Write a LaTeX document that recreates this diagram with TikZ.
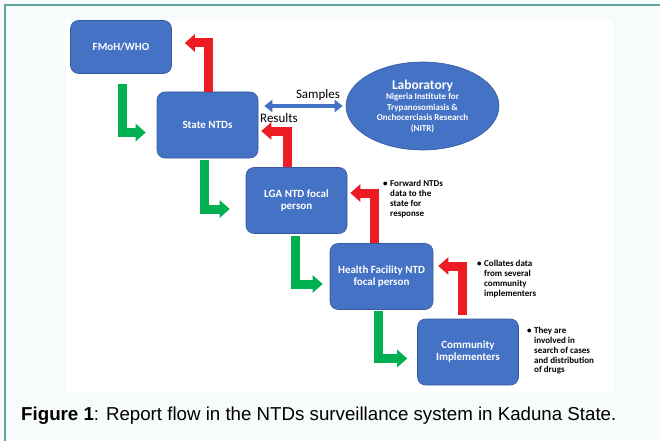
\documentclass[tikz,border=0pt]{standalone}
\usepackage{fontspec}
\setmainfont{Liberation Sans}
\newfontfamily\calib{Carlito}
\usetikzlibrary{arrows.meta,shapes.geometric}
\definecolor{boxblue}{RGB}{68,114,196}
\definecolor{flowgreen}{RGB}{0,176,80}
\definecolor{flowred}{RGB}{237,28,36}
\definecolor{frameteal}{RGB}{98,163,163}
\definecolor{framebg}{RGB}{248,251,251}
\newcommand{\bulnote}[1]{\textbullet\hspace{2.5pt}\begin{tabular}[t]{@{}l@{}}#1\end{tabular}}
\tikzset{
  stage/.style={draw=boxblue!80!black,line width=0.6pt,fill=boxblue,rounded corners=8pt,
    minimum width=101pt,minimum height=66pt,inner sep=1pt,align=center,text=white,
    font=\calib\bfseries\fontsize{11}{12}\selectfont},
  labnode/.style={ellipse,draw=boxblue!80!black,line width=0.6pt,fill=boxblue,
    minimum width=153pt,minimum height=88pt,inner sep=0pt,align=center,text=white,
    font=\calib\bfseries\fontsize{9}{10.5}\selectfont},
  gflow/.style={draw=flowgreen,line width=9pt,-{Triangle[width=17pt,length=10pt]}},
  rflow/.style={draw=flowred,line width=9pt,-{Triangle[width=17pt,length=10pt]}},
  sflow/.style={draw=boxblue,line width=4pt,{Triangle[width=12pt,length=8pt]}-{Triangle[width=12pt,length=8pt]}},
  lbl/.style={inner sep=0pt,font=\calib\fontsize{13}{14}\selectfont},
  note/.style={anchor=north west,inner sep=0pt,font=\calib\bfseries\fontsize{9}{9.7}\selectfont},
}
\begin{document}
\begin{tikzpicture}[x=1pt,y=-1pt,line join=miter]
	\useasboundingbox (0,0) rectangle (660,441);
	\fill[framebg] (0,0) rectangle (660,441);
	\fill[white] (66,20) rectangle (613,392);
	\draw[frameteal,line width=2pt] (5,441) -- (5,5) -- (660,5);

	\node[stage] (fmoh) at (121,47) [minimum height=53pt] {FMoH/WHO};
	\node[stage] (state) at (207.5,125) {State NTDs};
	\node[stage] (lga) at (296.5,200.5) {LGA NTD focal\\person};
	\node[stage] (hf) at (381.5,276.5) [minimum width=103pt] {Health Facility NTD\\focal person};
	\node[stage] (comm) at (468,352) {Community\\Implementers};
	\node[labnode] (lab) at (422.5,106) {{\fontsize{13.5}{15}\selectfont Laboratory}\\Nigeria Institute for\\Trypanosomiasis \&\\Onchocerciasis Research\\(NITR)};

	\draw[gflow] ([shift={(1,10)}]fmoh.south) |- ([shift={(-11,7.5)}]state.west);
	\draw[gflow] ([shift={(-3.5,2)}]state.south) |- ([shift={(-16,8.5)}]lga.west);
	\draw[gflow] ([shift={(-1.5,2)}]lga.south) |- ([shift={(-7,7.5)}]hf.west);
	\draw[gflow] ([shift={(-3.5,1)}]hf.south) |- ([shift={(-10,6.5)}]comm.west);

	\draw[rflow] ([xshift=1pt]state.north) |- ([shift={(13,-4)}]fmoh.east);
	\draw[rflow] ([xshift=-9.5pt]lga.north) |- ([shift={(3,6)}]state.east);
	\draw[rflow] ([xshift=-7.5pt]hf.north) |- ([shift={(3,-7.5)}]lga.east);
	\draw[rflow] ([shift={(-6,-4)}]comm.north) |- ([shift={(5,-10.5)}]hf.east);

	\draw[sflow] ([shift={(6,-19)}]state.east) -- ([xshift=-3pt]lab.west);
	\node[lbl] (samples) at (318,95) {Samples};
	\node[lbl] (results) at (279,118) {Results};

	\node[note] (fwd) at (383,180) {\bulnote{Forward NTDs\\data to the\\state for\\response}};
	\node[note] (col) at (477,260) {\bulnote{Collates data\\from several\\community\\implementers}};
	\node[note] (inv) at (527,327) {\bulnote{They are\\involved in\\search of cases\\and distribution\\of drugs}};

	\node[anchor=base west,inner sep=0pt,font=\fontsize{18.7}{20}\selectfont] (cap) at (21,420)
		{\textbf{Figure 1}: Report flow in the NTDs surveillance system in Kaduna State.};
\end{tikzpicture}
\end{document}
